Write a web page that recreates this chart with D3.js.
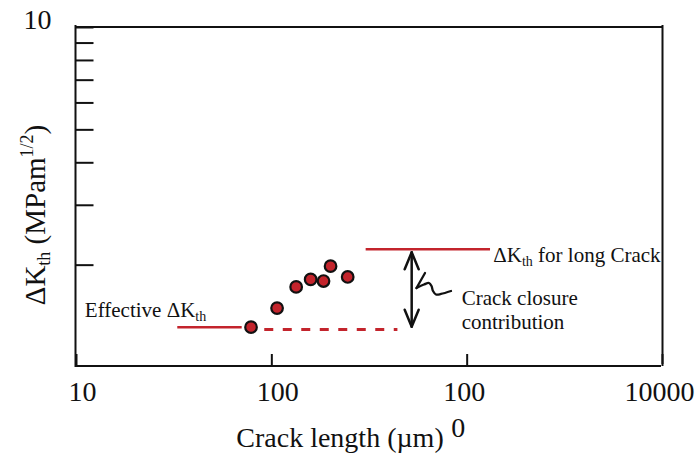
<!DOCTYPE html>
<html>
<head>
<meta charset="utf-8">
<script src="https://cdn.jsdelivr.net/npm/d3@7"></script>
<style>
  html, body { margin: 0; padding: 0; background: #fff; }
  svg { display: block; }
  text { font-family: "Liberation Serif", "Times New Roman", serif; fill: #111; }
</style>
</head>
<body>
<svg id="chart" width="697" height="459"></svg>
<script>
// ---- data ----
const xTicks = [10, 100, 1000, 10000];
const xTickLabels = ["10", "100", "100\n0", "10000"];
const yTicks = [2, 3, 4, 5, 6, 7, 8, 9, 10];
const yTickLabels = ["", "", "", "", "", "", "", "", "10"];

const crackLength = [78.7, 107, 134, 159, 185, 201, 246];   // µm
const deltaKth    = [1.31, 1.49, 1.72, 1.81, 1.79, 1.98, 1.84];

const effectiveSolidX  = [33, 70.5];
const effectiveSolidY  = [1.31, 1.31];
const effectiveDashedX = [92, 442];
const effectiveDashedY = [1.29, 1.29];
const longCrackX = [304, 1317];
const longCrackY = [2.22, 2.22];
const arrowX = 523;
const arrowY = [2.175, 1.314];
const pointerX = [612, 553.6];
const pointerY = [1.890, 1.708];
const tailX = [553.6, 604.7, 641.6, 660.7, 672.5, 696.6, 738.9, 831.3];
const tailY = [1.708, 1.748, 1.766, 1.730, 1.673, 1.634, 1.640, 1.673];

const labelLong      = {x: 1369, y: 2.03, main: "ΔK", sub: "th", rest: " for long Crack"};
const labelEffective = {x: 11.1, y: 1.403, main: "Effective ΔK", sub: "th"};
const labelClosure   = {x: 943, y: [1.52, 1.29], lines: ["Crack closure", "contribution"]};

const RED = "#c3242c";

// ---- layout ----
const svg = d3.select("#chart");
svg.append("rect").attr("width", 697).attr("height", 459).attr("fill", "#fff");

const x = d3.scaleLog().domain([10, 10000]).range([76, 662]);
const y = d3.scaleLog().domain([1, 10]).range([367, 27]);
const [x0, x1] = x.range();
const yTop = y(10), yBot = 366;
const xLabelShift = [6, 6, -3, -3];

// axes
const xAxis = d3.axisBottom(x).tickValues(xTicks).tickSizeInner(-12).tickSizeOuter(0).tickFormat((d, i) => xTickLabels[i]);
const gx = svg.append("g").attr("transform", `translate(0,${yBot})`).call(xAxis);
gx.select(".domain").remove();
gx.selectAll(".tick line").attr("stroke", "#111").attr("stroke-width", 2);
gx.selectAll(".tick text").each(function(d, i) {
  const t = d3.select(this);
  const parts = xTickLabels[i].split("\n");
  t.text(null).attr("y", 35).attr("dy", null)
   .attr("font-size", 28).attr("fill", "#111");
  parts.forEach((p, k) => {
    t.append("tspan").attr("x", xLabelShift[i] + (k === 0 ? 0 : -6)).attr("dy", k === 0 ? 0 : 36).text(p);
  });
});

const yAxis = d3.axisLeft(y).tickValues(yTicks).tickSizeInner(-18).tickSizeOuter(0).tickFormat((d, i) => yTickLabels[i]);
const gy = svg.append("g").attr("transform", `translate(${x0 - 0.5},0)`).call(yAxis);
gy.select(".domain").remove();
gy.selectAll(".tick line").attr("stroke", "#111").attr("stroke-width", 2);
gy.selectAll(".tick text").attr("x", -24).attr("dy", "0.05em").attr("font-size", 28).attr("fill", "#111");

// frame
const frame = svg.append("g").attr("stroke", "#111").attr("stroke-width", 2).attr("fill", "none");
frame.append("line").attr("x1", x0 - 0.5).attr("x2", x0 - 0.5).attr("y1", yTop - 2).attr("y2", yBot + 1);
frame.append("line").attr("x1", x0 - 1).attr("x2", x1 + 1).attr("y1", yTop).attr("y2", yTop);
frame.append("line").attr("x1", x1 + 0.5).attr("x2", x1 + 0.5).attr("y1", yTop - 2).attr("y2", yBot - 2);
frame.append("line").attr("x1", x0 - 1).attr("x2", x1 - 1).attr("y1", yBot).attr("y2", yBot);

// axis titles
svg.append("text")
  .attr("x", 340).attr("y", 447).attr("text-anchor", "middle").attr("font-size", 28)
  .text("Crack length (µm)");

const yt = svg.append("text")
  .attr("transform", "translate(45,215) rotate(-90)")
  .attr("text-anchor", "middle").attr("font-size", 29);
yt.append("tspan").text("ΔK");
yt.append("tspan").attr("font-size", 18).attr("dy", 5).text("th");
yt.append("tspan").attr("dy", -5).text(" (MPam");
yt.append("tspan").attr("font-size", 18).attr("dy", -12).text("1/2");
yt.append("tspan").attr("dy", 12).text(")");

// red reference lines
const line = d3.line().x(d => x(d[0])).y(d => y(d[1]));
svg.append("path").attr("d", line(d3.zip(effectiveSolidX, effectiveSolidY)))
  .attr("stroke", RED).attr("stroke-width", 2.5).attr("fill", "none");
svg.append("path").attr("d", line(d3.zip(effectiveDashedX, effectiveDashedY)))
  .attr("stroke", RED).attr("stroke-width", 3).attr("stroke-dasharray", "9,9.5").attr("fill", "none");
svg.append("path").attr("d", line(d3.zip(longCrackX, longCrackY)))
  .attr("stroke", RED).attr("stroke-width", 2.5).attr("fill", "none");

// double arrow
const ax = x(arrowX), ayT = y(arrowY[0]), ayB = y(arrowY[1]);
const arr = svg.append("g").attr("stroke", "#111").attr("stroke-width", 2.5).attr("fill", "none")
  .attr("stroke-linecap", "round").attr("stroke-linejoin", "round");
arr.append("path").attr("d", `M${ax},${ayT} L${ax},${ayB}`);
arr.append("path").attr("d", `M${ax - 7},${ayT + 17} L${ax},${ayT} L${ax + 7},${ayT + 17}`);
arr.append("path").attr("d", `M${ax - 7},${ayB - 17} L${ax},${ayB} L${ax + 7},${ayB - 17}`);

// hand-drawn pointer
const sqGroup = svg.append("g").attr("stroke", "#111").attr("stroke-width", 2.3).attr("fill", "none")
  .attr("stroke-linecap", "round").attr("stroke-linejoin", "round");
sqGroup.append("path").attr("d", line(d3.zip(pointerX, pointerY)));
const tail = d3.line().x(d => x(d[0])).y(d => y(d[1])).curve(d3.curveCatmullRom.alpha(0.5));
sqGroup.append("path").attr("d", tail(d3.zip(tailX, tailY)));

// data points
svg.append("g").selectAll("circle").data(d3.zip(crackLength, deltaKth)).join("circle")
  .attr("cx", d => x(d[0])).attr("cy", d => y(d[1])).attr("r", 5.8)
  .attr("fill", RED).attr("stroke", "#111").attr("stroke-width", 2.2);

// annotations
const tl = svg.append("text").attr("x", x(labelLong.x)).attr("y", y(labelLong.y)).attr("font-size", 21);
tl.append("tspan").text(labelLong.main);
tl.append("tspan").attr("font-size", 14).attr("dy", 4).text(labelLong.sub);
tl.append("tspan").attr("dy", -4).text(labelLong.rest);

const te = svg.append("text").attr("x", x(labelEffective.x)).attr("y", y(labelEffective.y)).attr("font-size", 21);
te.append("tspan").text(labelEffective.main);
te.append("tspan").attr("font-size", 14).attr("dy", 4).text(labelEffective.sub);

labelClosure.lines.forEach((s, i) => {
  svg.append("text").attr("x", x(labelClosure.x)).attr("y", y(labelClosure.y[i])).attr("font-size", 21).text(s);
});
</script>
</body>
</html>
